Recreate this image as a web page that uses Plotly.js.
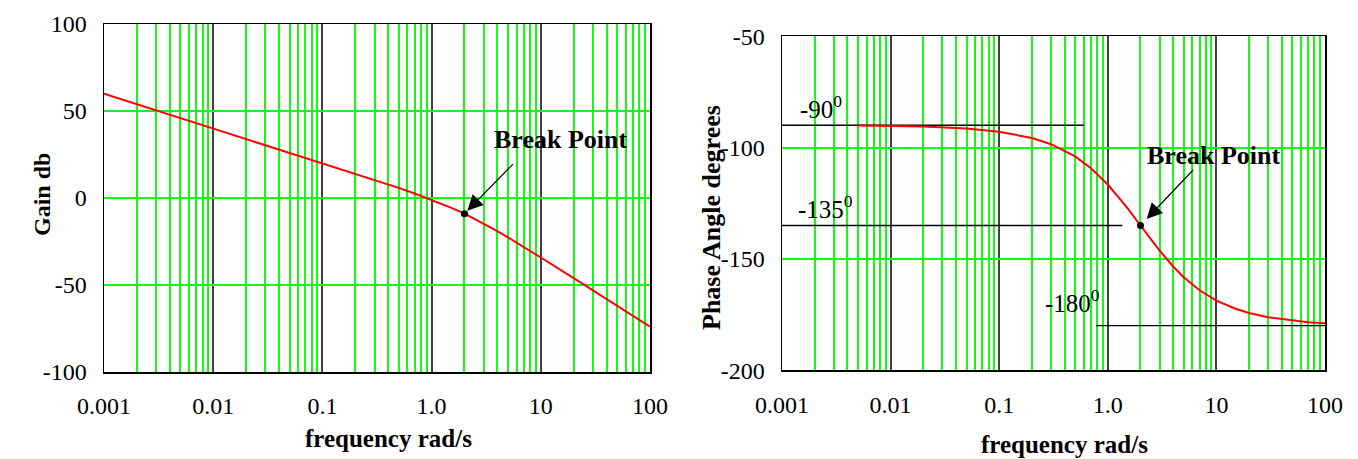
<!DOCTYPE html>
<html>
<head>
<meta charset="utf-8">
<script src="https://cdn.plot.ly/plotly-3.0.1.min.js"></script>
<style>html,body{margin:0;padding:0;background:#fff;}#chart{width:1358px;height:459px;}</style>
</head>
<body>
<div id="chart"></div>
<script>
// Gain plot
const freqGain = [0.001, 0.01, 0.1, 0.3, 0.5, 0.7, 1, 1.5, 2, 3, 4, 5, 7, 10, 20, 30, 50, 70, 100];
const gainDb = [60, 40, 20, 10.4, 5.8, 2.6, -1.0, -5.5, -9.0, -14.7, -19.0, -22.6, -28.1, -34.2, -46.1, -53.1, -62.0, -67.8, -74.0];

// Phase plot
const freqPhase = [0.005, 0.01, 0.02, 0.05, 0.1, 0.2, 0.3, 0.5, 0.7, 1, 1.5, 2, 3, 4, 5, 7, 10, 15, 20, 30, 50, 70, 100];
const phaseDeg = [-90.1, -90.3, -90.6, -91.4, -92.9, -95.7, -98.5, -104.0, -109.3, -116.6, -126.9, -135.0, -146.3, -153.4, -158.2, -164.1, -168.7, -172.4, -174.3, -176.2, -177.7, -178.4, -178.9];

// Break point
const breakFreq = [2];
const breakGain = [-9.0];
const breakPhase = [-135];

// Asymptote reference lines on phase plot
const ref90x = [0.001, 0.6], ref90y = [-90, -90];
const ref135x = [0.001, 1.36], ref135y = [-135, -135];
const ref180x = [0.78, 100], ref180y = [-180, -180];

// Tick labels
const xTickVals = [0.001, 0.01, 0.1, 1, 10, 100];
const xTickText = ['0.001', '0.01', '0.1', '1.0', '10', '100'];
const gainTicks = [-100, -50, 0, 50, 100];
const gainTickText = ['-100', '-50', '0', '50', '100'];
const phaseTicks = [-200, -150, -100, -50];
const phaseTickText = ['-200', '-150', '-100', '-50'];

// Minor grid positions (2..9 within each decade)
const minorVals = [];
for (const d of [0.001, 0.01, 0.1, 1, 10]) for (let k = 2; k <= 9; k++) minorVals.push(+(d * k).toPrecision(3));

const GREEN = 'rgb(20,250,20)';
const DECADE = '#404040';
const FONT = 'Liberation Serif, Times New Roman, serif';

const W = 1358, H = 459;
const mL = 104, mR = 33, mT = 24, mB = 87;
const pw = W - mL - mR, ph = H - mT - mB;

function xAxis(domain, anchor) {
  return {
    type: 'log', range: [-3, 2], domain: domain, anchor: anchor,
    tickmode: 'array', tickvals: xTickVals, ticktext: xTickText,
    ticks: '', ticklabelstandoff: 12,
    tickfont: {family: FONT, size: 24, color: '#000'},
    showgrid: true, gridcolor: DECADE, gridwidth: 2,
    showline: true, linecolor: '#000', linewidth: 1.5, mirror: true,
    zeroline: false, fixedrange: true, automargin: false
  };
}
function minorAxis(over, anchor) {
  return {
    type: 'log', range: [-3, 2], overlaying: over, anchor: anchor,
    tickmode: 'array', tickvals: minorVals, showticklabels: false, ticks: '',
    showgrid: true, gridcolor: GREEN, gridwidth: 2,
    showline: false, zeroline: false, fixedrange: true, automargin: false
  };
}
function yAxis(domain, anchor, range, ticks, text) {
  return {
    range: range, domain: domain, anchor: anchor,
    tickmode: 'array', tickvals: ticks, ticktext: text,
    ticks: '', ticklabelstandoff: 11,
    tickfont: {family: FONT, size: 24, color: '#000'},
    showgrid: true, gridcolor: GREEN, gridwidth: 2,
    showline: true, linecolor: '#000', linewidth: 1.5, mirror: true,
    zeroline: false, fixedrange: true, automargin: false
  };
}

const traces = [
  {x: freqGain, y: gainDb, xaxis: 'x', yaxis: 'y', mode: 'lines', line: {color: '#ff0000', width: 2}, hoverinfo: 'skip'},
  {x: breakFreq, y: breakGain, xaxis: 'x', yaxis: 'y', mode: 'markers', marker: {color: '#000', size: 7}, hoverinfo: 'skip'},
  {x: ref90x, y: ref90y, xaxis: 'x2', yaxis: 'y2', mode: 'lines', line: {color: '#000', width: 1.3}, hoverinfo: 'skip'},
  {x: ref135x, y: ref135y, xaxis: 'x2', yaxis: 'y2', mode: 'lines', line: {color: '#000', width: 1.3}, hoverinfo: 'skip'},
  {x: ref180x, y: ref180y, xaxis: 'x2', yaxis: 'y2', mode: 'lines', line: {color: '#000', width: 1.3}, hoverinfo: 'skip'},
  {x: freqPhase, y: phaseDeg, xaxis: 'x2', yaxis: 'y2', mode: 'lines', line: {color: '#ff0000', width: 2}, hoverinfo: 'skip'},
  {x: breakFreq, y: breakPhase, xaxis: 'x2', yaxis: 'y2', mode: 'markers', marker: {color: '#000', size: 7}, hoverinfo: 'skip'},
  // invisible traces binding the minor-grid overlay axes
  {x: [0.001, 100], y: [0, 0], xaxis: 'x3', yaxis: 'y', mode: 'none', hoverinfo: 'skip'},
  {x: [0.001, 100], y: [-100, -100], xaxis: 'x4', yaxis: 'y2', mode: 'none', hoverinfo: 'skip'}
];

const lg = Math.log10;
const annFont = {family: FONT, size: 25, color: '#000'};
const bpFont = {family: FONT, size: 26, color: '#000'};
const titleFont = {family: FONT, size: 25, color: '#000'};
const px = p => (p - mL) / pw;          // page x pixel -> paper fraction
const py = p => ((H - mB) - p) / ph;    // page y pixel -> paper fraction
const layout = {
  width: W, height: H,
  margin: {l: mL, r: mR, t: mT, b: mB},
  paper_bgcolor: '#fff', plot_bgcolor: '#fff',
  showlegend: false,
  xaxis: xAxis([0, px(650)], 'y'),
  yaxis: yAxis([0, 1], 'x', [-100, 100], gainTicks, gainTickText),
  xaxis2: xAxis([px(782), 1], 'y2'),
  yaxis2: yAxis([0.005, 0.965], 'x2', [-200, -50], phaseTicks, phaseTickText),
  xaxis3: minorAxis('x', 'y'),
  xaxis4: minorAxis('x2', 'y2'),
  annotations: [
    // Break point arrows
    {xref: 'x', yref: 'y', x: lg(breakFreq[0]), y: breakGain[0], text: '', showarrow: true,
     ax: 50, ay: -51, arrowhead: 2, arrowsize: 2.6, arrowwidth: 1.2, arrowcolor: '#000', standoff: 4},
    {xref: 'x', yref: 'y', x: 1.176, y: 33.5, xanchor: 'center', yanchor: 'middle', text: '<b>Break Point</b>', showarrow: false, font: bpFont},
    {xref: 'x2', yref: 'y2', x: lg(breakFreq[0]), y: breakPhase[0], text: '', showarrow: true,
     ax: 54, ay: -57, arrowhead: 2, arrowsize: 2.6, arrowwidth: 1.2, arrowcolor: '#000', standoff: 9},
    {xref: 'x2', yref: 'y2', x: 0.969, y: -103.4, xanchor: 'center', yanchor: 'middle', text: '<b>Break Point</b>', showarrow: false, font: bpFont},
    // Angle labels
    {xref: 'x2', yref: 'y2', x: -2.853, y: -90, xanchor: 'left', yanchor: 'bottom', text: '-90<sup>0</sup>', showarrow: false, font: annFont},
    {xref: 'x2', yref: 'y2', x: -2.871, y: -135, xanchor: 'left', yanchor: 'bottom', text: '-135<sup>0</sup>', showarrow: false, font: annFont},
    {xref: 'x2', yref: 'y2', x: -0.597, y: -177, xanchor: 'left', yanchor: 'bottom', text: '-180<sup>0</sup>', showarrow: false, font: annFont},
    // Axis titles
    {xref: 'paper', yref: 'paper', x: px(388), y: py(438), xanchor: 'center', yanchor: 'middle', text: '<b>frequency rad/s</b>', showarrow: false, font: titleFont},
    {xref: 'paper', yref: 'paper', x: px(1064), y: py(444), xanchor: 'center', yanchor: 'middle', text: '<b>frequency rad/s</b>', showarrow: false, font: titleFont},
    {xref: 'paper', yref: 'paper', x: px(42), y: py(195), xanchor: 'center', yanchor: 'middle', text: '<b>Gain db</b>', textangle: -90, showarrow: false, font: {family: FONT, size: 24, color: '#000'}},
    {xref: 'paper', yref: 'paper', x: px(711), y: py(218), xanchor: 'center', yanchor: 'middle', text: '<b>Phase Angle degrees</b>', textangle: -90, showarrow: false, font: {family: FONT, size: 26, color: '#000'}}
  ]
};

Plotly.newPlot('chart', traces, layout, {staticPlot: true, displayModeBar: false});
</script>
</body>
</html>
